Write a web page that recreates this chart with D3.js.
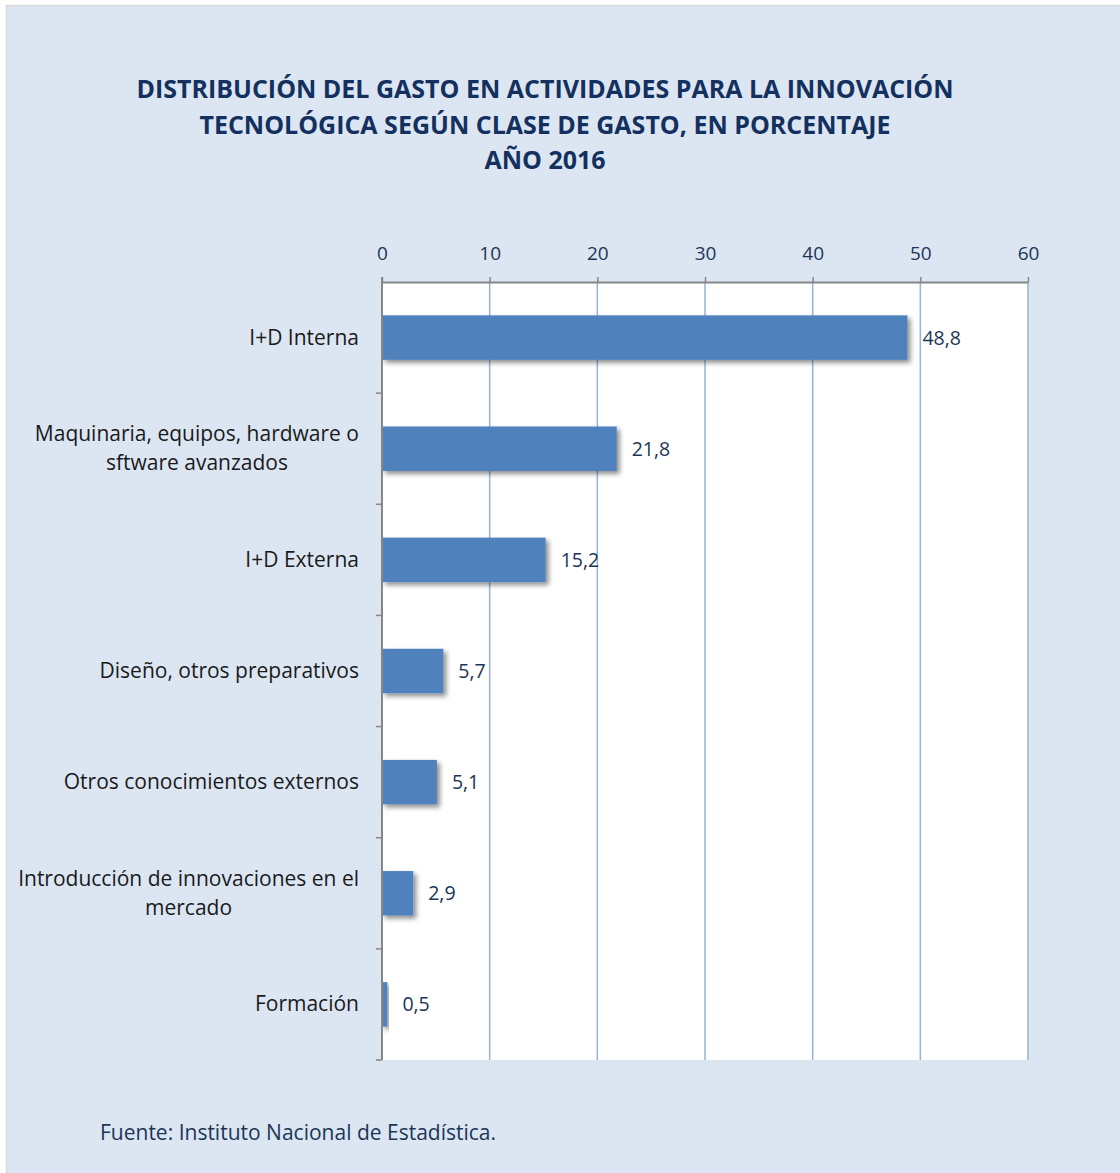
<!DOCTYPE html>
<html><head><meta charset="utf-8">
<script src="https://cdn.jsdelivr.net/npm/d3@7"></script>
<style>body{margin:0;background:#fff;} svg{display:block;}</style>
</head><body>
<script>
const categories = ["I+D Interna", "Maquinaria, equipos, hardware o sftware avanzados", "I+D Externa", "Diseño, otros preparativos", "Otros conocimientos externos", "Introducción de innovaciones en el mercado", "Formación"];
const labelLines = [["I+D Interna"], ["Maquinaria, equipos, hardware o", "sftware avanzados"], ["I+D Externa"], ["Diseño, otros preparativos"], ["Otros conocimientos externos"], ["Introducción de innovaciones en el", "mercado"], ["Formación"]];
const values = [48.8, 21.8, 15.2, 5.7, 5.1, 2.9, 0.5];
const valueLabels = ["48,8", "21,8", "15,2", "5,7", "5,1", "2,9", "0,5"];
const xTicks = [0, 10, 20, 30, 40, 50, 60];
const titleLines = ["DISTRIBUCIÓN DEL GASTO EN ACTIVIDADES PARA LA INNOVACIÓN", "TECNOLÓGICA SEGÚN CLASE DE GASTO, EN PORCENTAJE", "AÑO 2016"];
const source = "Fuente: Instituto Nacional de Estadística.";

const W = 1120, H = 1173;
const font = "'Open Sans', sans-serif";
const svg = d3.select("body").append("svg").attr("width", W).attr("height", H);
const defs = svg.append("defs");
const f = defs.append("filter").attr("id", "sh").attr("x", "-20%").attr("y", "-20%").attr("width", "150%").attr("height", "160%");
f.append("feGaussianBlur").attr("in", "SourceAlpha").attr("stdDeviation", 2.5);
f.append("feOffset").attr("dx", 3).attr("dy", 3).attr("result", "b");
f.append("feComponentTransfer").append("feFuncA").attr("type", "linear").attr("slope", 0.45);
const m = f.append("feMerge"); m.append("feMergeNode"); m.append("feMergeNode").attr("in", "SourceGraphic");

svg.append("rect").attr("x", 6.5).attr("y", 5.5).attr("width", W).attr("height", H).attr("fill", "#DCE6F2").attr("stroke", "#D9D9D9").attr("stroke-width", 1.5);

const title = svg.append("text").attr("text-anchor", "middle").attr("font-family", font).attr("font-weight", "bold").attr("font-size", 25).attr("fill", "#13305F");
titleLines.forEach((t, i) => title.append("tspan").attr("x", 545).attr("y", 98 + i * 35.5).text(t));

const L = 382, R = 1028, T = 282, B = 1060;
const x = d3.scaleLinear().domain([0, 60]).range([L, R]);
const y = d3.scaleBand().domain(categories).range([T, B]).paddingInner(0.6).paddingOuter(0.3);
const yb = d3.scaleBand().domain(categories).range([T, B]);

svg.append("rect").attr("x", L).attr("y", T).attr("width", R - L).attr("height", B - T).attr("fill", "#fff");

svg.append("g").selectAll("line").data(xTicks.slice(1)).join("line")
  .attr("x1", d => x(d)).attr("x2", d => x(d)).attr("y1", T).attr("y2", B)
  .attr("stroke", "#95B3D7").attr("stroke-width", 1.5);

svg.append("g").selectAll("rect").data(values).join("rect")
  .attr("x", L).attr("y", (d, i) => y(categories[i])).attr("width", d => x(d) - L).attr("height", y.bandwidth())
  .attr("fill", "#4F81BD").attr("filter", "url(#sh)");

// top axis
const xa = svg.append("g").attr("transform", `translate(0,${T})`).call(d3.axisTop(x).tickValues(xTicks).tickSize(5).tickPadding(17).tickSizeOuter(0));
xa.select(".domain").attr("stroke", "#868686").attr("stroke-width", 2);
xa.selectAll(".tick line").attr("stroke", "#868686").attr("stroke-width", 1.5);
xa.selectAll(".tick text").attr("font-family", font).attr("font-size", 19).attr("fill", "#1B3557");

// left axis
const ya = svg.append("g");
ya.append("line").attr("x1", L).attr("x2", L).attr("y1", T - 5).attr("y2", B).attr("stroke", "#868686").attr("stroke-width", 2);
ya.selectAll(".tk").data(categories.slice(1).concat(["__end"])).join("line")
  .attr("x1", L - 6).attr("x2", L)
  .attr("y1", (d, i) => T + yb.step() * (i + 1)).attr("y2", (d, i) => T + yb.step() * (i + 1))
  .attr("stroke", "#868686").attr("stroke-width", 1.5);

// category labels (multi-line blocks right-aligned, lines centred within block)
const labelRight = 359;
categories.forEach((c, i) => {
  const lines = labelLines[i];
  const cy = yb(c) + yb.bandwidth() / 2;
  const t = svg.append("text").attr("font-family", font).attr("font-size", 21).attr("fill", "#1a1a1a");
  const spans = lines.map((ln, j) => t.append("tspan").attr("y", cy + 7 + (j - (lines.length - 1) / 2) * 29).text(ln));
  if (lines.length === 1) {
    t.attr("text-anchor", "end");
    spans[0].attr("x", labelRight);
  } else {
    const maxW = d3.max(spans, s => s.node().getComputedTextLength());
    t.attr("text-anchor", "middle");
    spans.forEach(s => s.attr("x", labelRight - maxW / 2));
  }
});

// value labels
svg.append("g").selectAll("text").data(values).join("text")
  .attr("x", d => x(d) + 15).attr("y", (d, i) => yb(categories[i]) + yb.bandwidth() / 2 + 7)
  .attr("font-family", font).attr("font-size", 19.5).attr("fill", "#1B3557").text((d, i) => valueLabels[i]);

svg.append("text").attr("x", 100).attr("y", 1140).attr("font-family", font).attr("font-size", 21).attr("fill", "#1B3557").text(source);
</script>
</body></html>
